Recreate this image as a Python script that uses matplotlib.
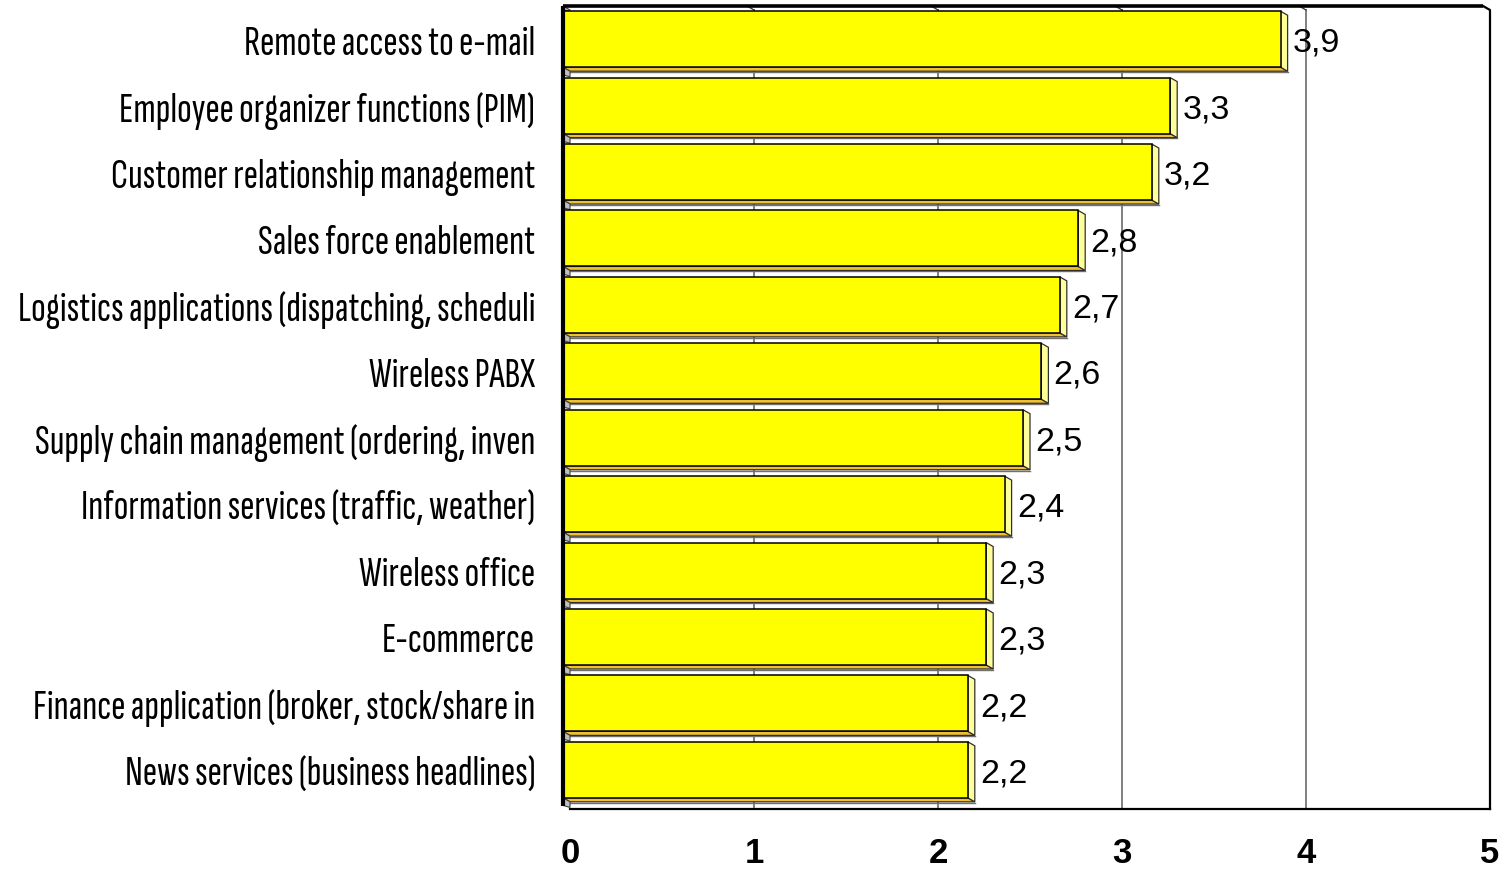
import matplotlib
matplotlib.use("Agg")
import matplotlib.pyplot as plt
from matplotlib.patches import Polygon
from matplotlib import font_manager as fm
import numpy as np

categories = [
    "Remote access to e-mail",
    "Employee organizer functions (PIM)",
    "Customer relationship management",
    "Sales force enablement",
    "Logistics applications (dispatching, scheduli",
    "Wireless PABX",
    "Supply chain management (ordering, inven",
    "Information services (traffic, weather)",
    "Wireless office",
    "E-commerce",
    "Finance application (broker, stock/share in",
    "News services (business headlines)",
]
values = [3.9, 3.3, 3.2, 2.8, 2.7, 2.6, 2.5, 2.4, 2.3, 2.3, 2.2, 2.2]
value_labels = ["3,9", "3,3", "3,2", "2,8", "2,7", "2,6", "2,5", "2,4", "2,3", "2,3", "2,2", "2,2"]
x_ticks = [0, 1, 2, 3, 4, 5]

names = {f.name for f in fm.fontManager.ttflist}
label_font = "DejaVu Sans"
for cand in ["Sofia Sans Extra Condensed", "Pathway Gothic One", "Fira Sans Extra Condensed",
             "Roboto Condensed", "Liberation Sans Narrow", "Liberation Sans"]:
    if cand in names:
        label_font = cand
        break
num_font = "Liberation Sans" if "Liberation Sans" in names else "DejaVu Sans"

W, H = 1503, 879
fig = plt.figure(figsize=(W / 100, H / 100), dpi=100)
left_px, right_px, top_px, bot_px = 563, 1490, 7, 810
ax = fig.add_axes([left_px / W, 1 - bot_px / H, (right_px - left_px) / W, (bot_px - top_px) / H])

XMAX = 5
DX = 7 / 184.0
YTOP, YBOT = -0.5, 11.59
DY = 4 / ((bot_px - top_px) / (YBOT - YTOP))
BH = 0.843

ax.set_xlim(0, XMAX + DX)
ax.set_ylim(YBOT, YTOP)
for s in ax.spines.values():
    s.set_visible(False)

n = len(values)
ypos = np.arange(n)

# gridlines on back wall
for t in x_ticks[1:-1]:
    ax.plot([t + DX, t + DX], [YTOP + DY, YBOT], color="#808080", lw=1.4, zorder=0.5)
    ax.plot([t, t + DX], [YTOP, YTOP + DY], color="#404040", lw=1.0, zorder=0.5)

# frame
ax.plot([0, XMAX], [YTOP, YTOP], color="black", lw=2.6, zorder=5, clip_on=False,
        solid_capstyle="butt")
ax.plot([XMAX, XMAX + DX, XMAX + DX], [YTOP, YTOP + DY, YBOT], color="black", lw=1.6,
        zorder=5, clip_on=False)
ax.plot([DX, XMAX + DX], [YBOT, YBOT], color="black", lw=1.6, zorder=5, clip_on=False)

# front faces
ax.barh(ypos, values, height=BH, left=0, color="#FFFF00", edgecolor="black",
        linewidth=1.1, zorder=3)

for i, v in enumerate(values):
    yt = i - BH / 2
    yb = i + BH / 2
    # bottom face
    ax.add_patch(Polygon([(0, yb), (v, yb), (v + DX, yb + DY), (DX, yb + DY)],
                         closed=True, facecolor="#F0C030", edgecolor="#303030",
                         lw=0.9, zorder=2.5))
    # right face
    ax.add_patch(Polygon([(v, yt), (v + DX, yt + DY), (v + DX, yb + DY), (v, yb)],
                         closed=True, facecolor="#FFFF99", edgecolor="#303030",
                         lw=0.9, zorder=2.5))
    # left wall piece
    ax.add_patch(Polygon([(0, yb), (DX, yb + DY), (DX, yb + 0.145), (0, yb + 0.115)],
                         closed=True, facecolor="#C0C0C0", edgecolor="#404040",
                         lw=0.8, zorder=2.6, clip_on=False))
    # strip line below bar
    ax.plot([DX, v + DX], [yb + DY + 0.012, yb + DY + 0.012], color="#707070",
            lw=1.0, zorder=2.4)
    # value label
    ax.text(v + DX + 0.028, i + 0.175, value_labels[i], ha="left", va="baseline",
            fontsize=24.5, family=num_font, color="black", zorder=6)

# top-left wall piece
ax.add_patch(Polygon([(0, YTOP), (DX, YTOP + DY), (DX, -BH / 2), (0, -BH / 2 - 0.02)],
                     closed=True, facecolor="#C0C0C0", edgecolor="#404040",
                     lw=0.8, zorder=2.6, clip_on=False))

# left thick border
ax.plot([0, 0], [YTOP, n - 1 + BH / 2 + 0.13], color="black", lw=3.0, zorder=5,
        clip_on=False, solid_capstyle="butt")

# ticks
ax.set_xticks([t + DX for t in x_ticks])
ax.set_xticklabels([str(t) for t in x_ticks], fontsize=25, fontweight="bold",
                   family=num_font)
ax.tick_params(axis="x", length=0, pad=19.5)
ax.set_yticks(ypos)
ax.set_yticklabels(categories, family=label_font, fontsize=30)
ax.tick_params(axis="y", length=0, pad=20)

# fit label widths to the reference width of the longest label
fig.canvas.draw()
r = fig.canvas.get_renderer()
wmax = max(t.get_window_extent(r).width for t in ax.get_yticklabels())
fs = 30 * 520.0 / wmax
for t in ax.get_yticklabels():
    t.set_fontsize(fs)

fig.savefig("out.png", dpi=100)
